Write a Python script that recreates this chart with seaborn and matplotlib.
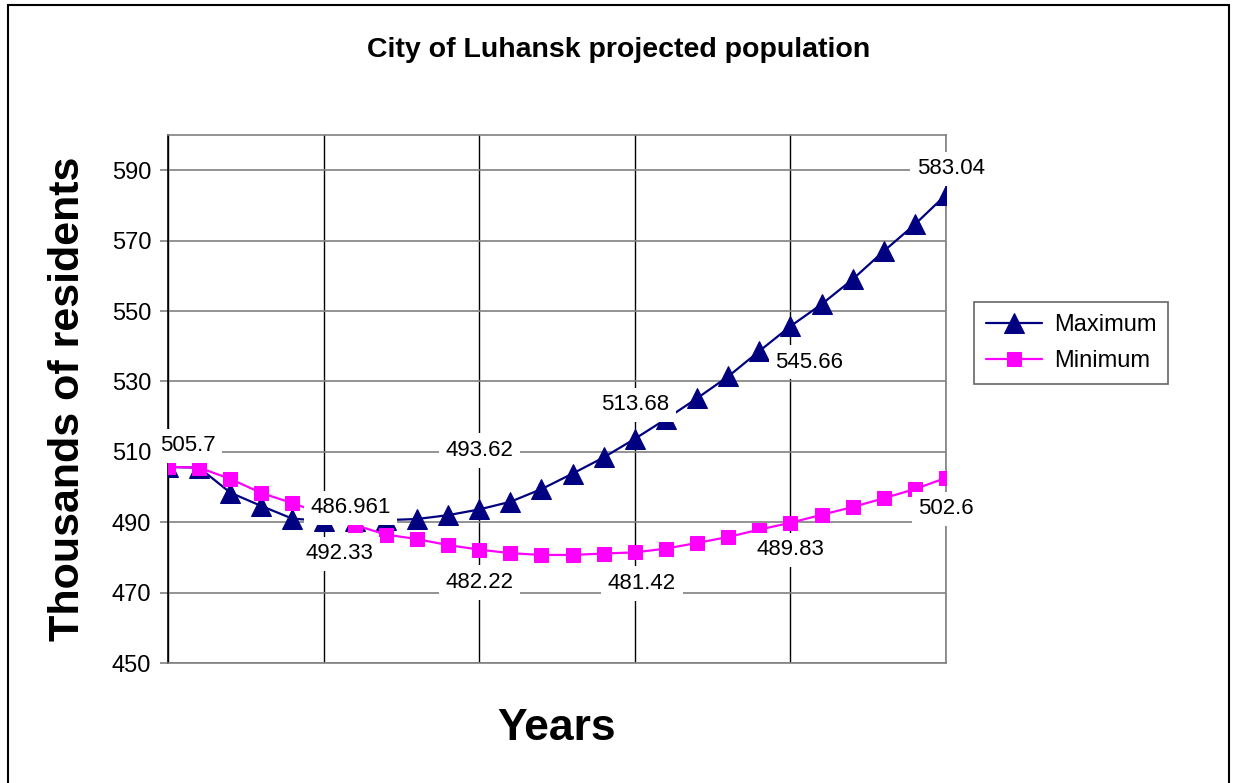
import numpy as np
import pandas as pd
import matplotlib
matplotlib.use("Agg")
import matplotlib.pyplot as plt
import seaborn as sb
from matplotlib.patches import Rectangle

# values (thousands of residents)
steps = list(range(26))
maximum = [505.7, 505.5, 498.4, 494.6, 491.0, 490.4, 490.3, 490.6, 490.9, 492.0,
           493.62, 495.8, 499.4, 503.8, 508.4, 513.68, 519.3, 525.2, 531.4, 538.6,
           545.66, 551.9, 559.0, 567.0, 574.6, 583.04]
minimum = [505.7, 505.5, 502.3, 498.3, 495.4, 492.33, 489.2, 486.5, 485.2, 483.5,
           482.22, 481.2, 480.7, 480.7, 481.1, 481.42, 482.5, 484.1, 485.8, 487.9,
           489.83, 492.1, 494.3, 496.8, 499.4, 502.6]

# data labels: (step, text, offset in pixels)
labels_max = [(5, "486.961", (27, 13)), (10, "493.62", (0, 59)), (15, "513.68", (0, 34)),
              (20, "545.66", (19, -36)), (25, "583.04", (5, 26))]
labels_min = [(0, "505.7", (20, 21)), (5, "492.33", (16, -40)), (10, "482.22", (0, -33)),
              (15, "481.42", (7, -31)), (20, "489.83", (0, -27)), (25, "502.6", (0, -31))]

NAVY = "#000080"
MAGENTA = "#FF00FF"


def main():
    sb.set_theme(style="white")
    plt.rcParams["font.family"] = ["Liberation Sans", "DejaVu Sans"]
    plt.rcParams["text.color"] = "black"
    plt.rcParams["axes.labelcolor"] = "black"
    plt.rcParams["xtick.color"] = "black"
    plt.rcParams["ytick.color"] = "black"

    df = pd.DataFrame({"step": steps, "Maximum": maximum, "Minimum": minimum})

    fig = plt.figure(figsize=(12.34, 7.83), dpi=100)
    ax = fig.add_axes([168 / 1234, 1 - 663 / 783, (946 - 168) / 1234, (663 - 135) / 783])

    sb.lineplot(data=df, x="step", y="Maximum", ax=ax, color=NAVY, marker="^",
                markersize=14.5, markeredgecolor=NAVY, linewidth=1.6, label="Maximum", zorder=3)
    sb.lineplot(data=df, x="step", y="Minimum", ax=ax, color=MAGENTA, marker="s",
                markersize=10.5, markeredgecolor=MAGENTA, linewidth=1.6, label="Minimum", zorder=4)

    box = dict(boxstyle="square,pad=0.3", fc="white", ec="none")
    for i, txt, off in labels_max:
        ax.annotate(txt, (steps[i], maximum[i]), xytext=off, textcoords="offset pixels",
                    ha="center", va="center", fontsize=16, bbox=box, zorder=6)
    for i, txt, off in labels_min:
        ax.annotate(txt, (steps[i], minimum[i]), xytext=off, textcoords="offset pixels",
                    ha="center", va="center", fontsize=16, bbox=box, zorder=6)

    ax.set_xlim(0, 25)
    ax.set_ylim(450, 600)
    ax.set_yticks(np.arange(450, 591, 20))
    ax.set_xticks([0, 5, 10, 15, 20, 25])
    ax.set_xticklabels([])
    ax.tick_params(axis="x", length=0)
    ax.tick_params(axis="y", direction="out", length=6, color="#808080", width=1.2,
                   labelsize=17, pad=6, left=True, labelcolor="black")
    ax.grid(axis="y", color="#808080", linewidth=1.2)
    ax.grid(axis="x", color="black", linewidth=1.0)
    ax.set_axisbelow(True)

    for side in ["top", "right", "bottom"]:
        ax.spines[side].set_color("#808080")
        ax.spines[side].set_linewidth(1.2)
    ax.spines["left"].set_color("black")
    ax.spines["left"].set_linewidth(1.2)

    ax.set_xlabel("Years", fontsize=32, fontweight="bold", labelpad=29)
    ax.set_ylabel("Thousands of residents", fontsize=31, fontweight="bold", labelpad=17)

    fig.text(619 / 1234, 1 - 50 / 783, "City of Luhansk projected population",
             ha="center", va="center", fontsize=20.5, fontweight="bold")

    ax.get_legend().remove()
    leg = fig.legend(loc="center left", bbox_to_anchor=(962 / 1234, 1 - 343 / 783),
                     fontsize=17, frameon=True, fancybox=False, edgecolor="#404040",
                     handlelength=2.4, borderpad=0.5, labelspacing=0.6, handletextpad=0.5)
    leg.get_frame().set_linewidth(1.2)

    # outer chart border
    fig.patches.append(Rectangle((8 / 1234, -0.01), (1229 - 8) / 1234, 1 - 5 / 783 + 0.01,
                                 transform=fig.transFigure, fill=False, ec="black", lw=1.5))

    fig.savefig("out.png", dpi=100)


if __name__ == "__main__":
    main()
